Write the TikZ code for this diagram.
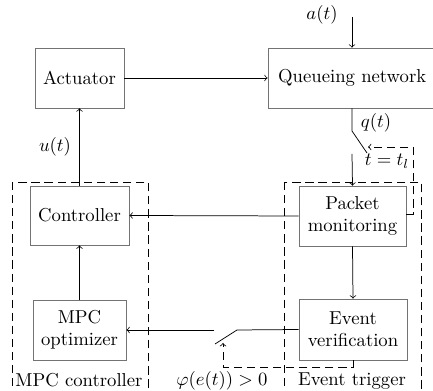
\documentclass[tikz,border=0pt]{standalone}
\usetikzlibrary{arrows}
\begin{document}
\begin{tikzpicture}[x=0.535pt,y=-0.535pt,
  box/.style={draw=gray!90!black, inner sep=0pt, align=center},
  conn/.style={draw=black},
  arr/.style={draw=black,->},
  grp/.style={draw=black,dash pattern=on 4.4pt off 2.6pt}]
\clip (0,0) rectangle (433,391);
% group boxes
\draw[grp] (12,182) rectangle (148,400);
\draw[grp] (284,182) rectangle (421,400);
% blocks
\node[box, minimum width=47.6pt, minimum height=32pt] (act) at (79.5,78) {Actuator};
\node[box, minimum width=94.7pt, minimum height=32pt] (qn) at (356.5,78) {Queueing network\hspace*{4.6pt}};
\node[box, minimum width=57.2pt, minimum height=32pt] (pm) at (352.5,216) {Packet\\monitoring};
\node[box, minimum width=57.8pt, minimum height=32.6pt] (ev) at (353,329.5) {Event\\verification};
\node[box, minimum width=53pt, minimum height=31.6pt] (ctl) at (79.5,215.5) {Controller};
\node[box, minimum width=49.8pt, minimum height=32pt] (mpc) at (79.5,330) {MPC\\optimizer};
% coordinates
\coordinate (ain) at (352,17);
\coordinate (qa) at (352,131);
\coordinate (qb) at (367,153);
\coordinate (qc) at (352,154);
\coordinate (sa) at (413,214);
\coordinate (sb) at (413,147);
\coordinate (sc) at (368,147);
\coordinate (ea) at (237,330);
\coordinate (eb) at (215,344);
\coordinate (ec) at (214,330);
\coordinate (da) at (353,367);
\coordinate (db) at (223,367);
\coordinate (dc) at (223,343);
% connectors
\draw[arr] (ain) -- (ain |- qn.north);
\draw[arr] (act.east) -- (qn.west);
\draw[conn] (qa |- qn.south) -- (qa) -- (qb);
\draw[arr] (qc) -- (pm.north);
\draw[grp,->] (pm.east |- sa) -- (sa) -- (sb) -- (sc);
\draw[arr] (pm.west) -- (ctl.east);
\draw[arr] (pm.south) -- (ev.north);
\draw[conn] (ev.west) -- (ea) -- (eb);
\draw[arr] (ec) -- (mpc.east);
\draw[grp,->] (ev.south) -- (da) -- (db) -- (dc);
\draw[arr] (mpc.north) -- (ctl.south);
\draw[arr] (ctl.north) -- (act.south);
% labels
\node (la) at (322,15) {$a(t)$};
\node (lq) at (376,123) {$q(t)$};
\node (lt) at (387,161) {$t=t_l$};
\node (lu) at (55,147) {$u(t)$};
\node (lphi) at (222,381) {$\varphi(e(t))>0$};
\node (let) at (352,381) {Event trigger};
\node (lmpc) at (79,380) {MPC controller};
\end{tikzpicture}
\end{document}
